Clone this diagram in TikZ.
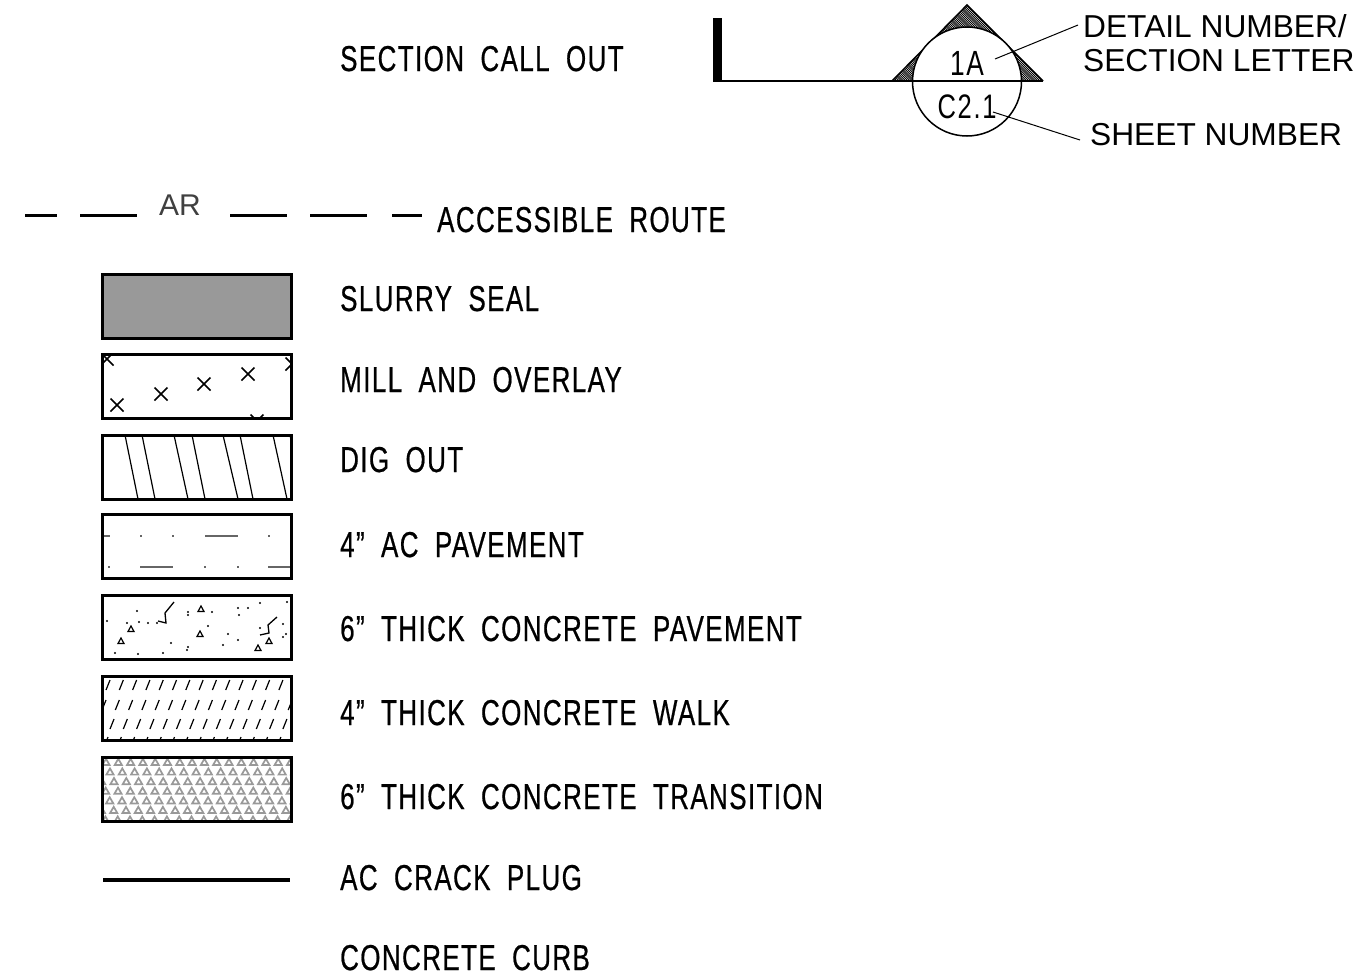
\documentclass[tikz,border=0pt]{standalone}
\usepackage{fontspec}
\setmainfont{Liberation Sans}
\newfontfamily\cad[FakeStretch=0.72,LetterSpace=4,WordSpace=1.9,FakeBold=0.6]{Liberation Sans}
\newfontfamily\cadn[FakeStretch=0.75,LetterSpace=5]{Liberation Sans}
\begin{document}
\begin{tikzpicture}[x=1pt,y=-1pt,
  boxst/.style={draw=black,line width=3pt,minimum width=189pt,minimum height=64pt,anchor=north west,inner sep=0pt,outer sep=0pt},
  lbl/.style={anchor=base west,inner sep=0pt,font=\cad\fontsize{36}{40}\selectfont},
  rlbl/.style={anchor=base west,inner sep=0pt,font=\fontsize{31.7}{35}\selectfont},
  leader/.style={line width=1pt},
  ardash/.style={line width=3pt},
  xm/.pic={\draw[line width=1.5pt] (-6.5,-6.5)--(6.5,6.5) (-6.5,6.5)--(6.5,-6.5);},
  tri/.pic={\draw[line width=1.2pt] (-3,2.5)--(3,2.5)--(0,-3)--cycle;},
  gtri/.pic={\draw[line width=1.7pt,draw=black!40] (-3.6,3)--(3.6,3)--(0,-3.2)--cycle;},
  dt/.pic={\fill (0,0) circle (1.1);}
]
\useasboundingbox (0,0) rectangle (1355,977);

% ---------- section call out ----------
\node[lbl] (tsec) at (340,71) {SECTION CALL OUT};
\fill (713,18) rectangle (722,82);
\begin{scope}
  \clip (892,81) -- (967,5) -- (1043,81) -- cycle;
  \foreach \i in {-120,-117.8,...,100} \draw[line width=0.9pt] (892+\i,0) -- (982+\i,90);
\end{scope}
\draw[line width=1.5pt] (892,81) -- (967,5) -- (1043,81);
\node[circle,draw,line width=1.5pt,fill=white,minimum size=109pt,inner sep=0pt] (circ) at (967,81.5) {};
\draw[line width=2pt] (713,81) -- (1043,81);
\node[anchor=base,inner sep=0pt,font=\cadn\fontsize{35}{36}\selectfont] (t1a) at (967,75) {1A};
\node[anchor=base,inner sep=0pt,font=\cadn\fontsize{34}{36}\selectfont] (tc21) at (967,118) {C2.1};
\node[rlbl] (detail) at (1083,37) {DETAIL NUMBER/};
\node[rlbl] (secl) at (1083,71) {SECTION LETTER};
\node[rlbl] (sheet) at (1090,145) {SHEET NUMBER};
\coordinate (la) at (995,59);
\coordinate (lb) at (993,112);
\coordinate (lae) at (1078,25);
\coordinate (lbe) at (1080,140);
\draw[leader] (la) -- (lae);
\draw[leader] (lb) -- (lbe);

% ---------- accessible route ----------
\draw[ardash] (25,215) -- (57,215) (80,215) -- (137,215) (230,215) -- (287,215) (310,215) -- (367,215) (392,215) -- (422,215);
\node[anchor=base,inner sep=0pt,font=\fontsize{30}{32}\selectfont,text=black!75] (tar) at (180,215) {AR};
\node[lbl] (tacc) at (437,232) {ACCESSIBLE ROUTE};

% ---------- patterns ----------
% slurry
\fill[black!40] (102,274) rectangle (291,338);
% mill and overlay
\begin{scope}
  \clip (102,354) rectangle (291,418);
  \foreach \p in {(117,405),(161,394),(204,384),(248,374),(107,359),(148,348),(292,364),(257,421)}
    \pic at \p {xm};
\end{scope}
% dig out
\begin{scope}
  \clip (102,435) rectangle (291,499);
  \foreach \a/\b in {125/138,142/155,174/188,192/205,223/238,240/253,273/287,290/303,90/103}
    \draw[line width=1.2pt] (\a,435) -- (\b,499);
\end{scope}
% AC pavement
\begin{scope}
  \clip (102,514) rectangle (291,578);
  \draw[line width=1.6pt,black!60] (100,536)--(110,536) (140,536)--(142,536) (172,536)--(174,536) (205,536)--(238,536) (268,536)--(270,536);
  \draw[line width=1.6pt,black!60] (108,567)--(110,567) (140,567)--(173,567) (204,567)--(206,567) (237,567)--(239,567) (268,567)--(292,567);
\end{scope}
% 6" concrete pavement
\begin{scope}
  \clip (102,595) rectangle (291,659);
  \foreach \p in {(137,611),(107,621),(127,623),(139,622),(148,623),(157,623),(188,612),(188,615),(212,612),(238,608),(248,608),(260,603),(287,602),(239,615),(208,626),(228,634),(238,640),(223,645),(188,647),(187,650),(171,643),(115,653),(138,654),(163,653),(260,628),(283,624),(286,634),(283,637)}
    \pic at \p {dt};
  \foreach \p in {(201,609),(131,629),(121,641),(200,634),(269,641),(258,648)}
    \pic at \p {tri};
  \draw[line width=1.3pt] (158,621) -- (166,623) -- (165,613) -- (174,602);
  \draw[line width=1.3pt] (260,635) -- (269,633) -- (268,625) -- (277,617);
\end{scope}
% 4" concrete walk
\begin{scope}
  \clip (102,676) rectangle (291,740);
  \foreach \y/\o in {685/108,705/104,724/112,742/106}
    \foreach \k in {-1,0,...,14}
      \draw[line width=1.2pt] (\o+\k*13.3-2,\y+5) -- (\o+\k*13.3+2,\y-5);
\end{scope}
% 6" concrete transition
\begin{scope}
  \clip (102,757) rectangle (291,821);
  \foreach \r in {0,...,6}
    \foreach \k in {-1,0,...,16}
      \pic at ({106+mod(\r*4,12.3)+\k*12.3},{762+\r*9.6}) {gtri};
\end{scope}

% ---------- boxes ----------
\node[boxst] (bslurry) at (102,274) {};
\node[boxst] (bmill) at (102,354) {};
\node[boxst] (bdig) at (102,435) {};
\node[boxst] (bac) at (102,514) {};
\node[boxst] (bconc) at (102,595) {};
\node[boxst] (bwalk) at (102,676) {};
\node[boxst] (btrans) at (102,757) {};

% crack plug
\coordinate (cp1) at (103,880);
\coordinate (cp2) at (290,880);
\draw[line width=4pt] (cp1) -- (cp2);

% ---------- labels ----------
\node[lbl] (tslurry) at (340,311) {SLURRY SEAL};
\node[lbl] (tmill) at (340,392) {MILL AND OVERLAY};
\node[lbl] (tdig) at (340,472) {DIG OUT};
\node[lbl] (tac) at (340,557) {4” AC PAVEMENT};
\node[lbl] (tconc) at (340,641) {6” THICK CONCRETE PAVEMENT};
\node[lbl] (twalk) at (340,725) {4” THICK CONCRETE WALK};
\node[lbl] (ttrans) at (340,809) {6” THICK CONCRETE TRANSITION};
\node[lbl] (tcrack) at (340,890) {AC CRACK PLUG};
\node[lbl] (tcurb) at (340,970) {CONCRETE CURB};
\end{tikzpicture}
\end{document}
